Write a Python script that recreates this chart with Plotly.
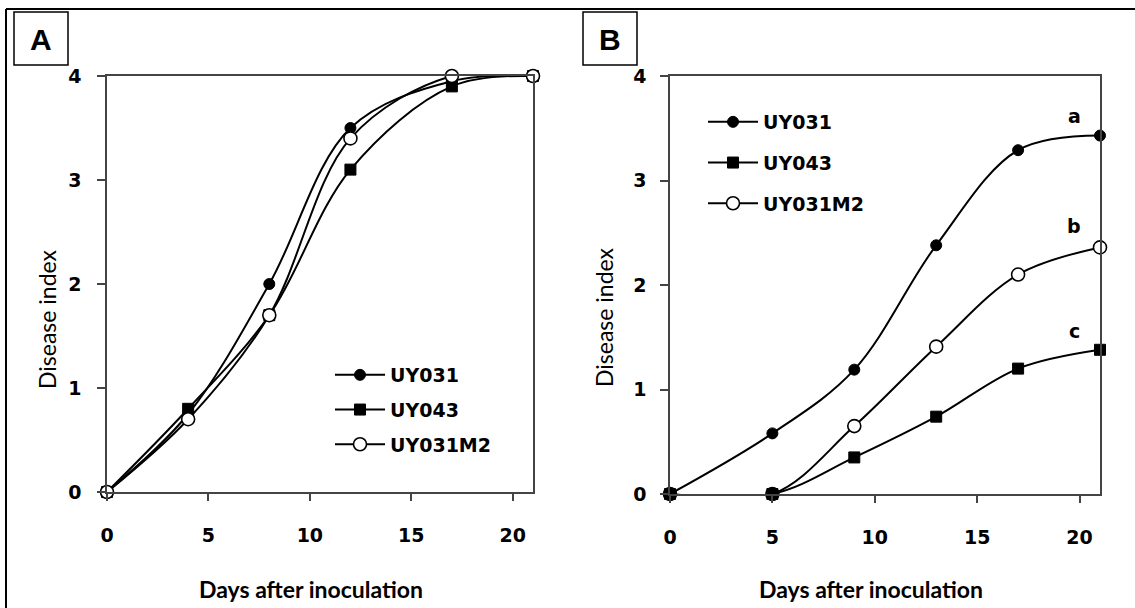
import plotly.graph_objects as go

W, H = 1135, 608

# ---- data ----
series_names = ["UY031", "UY043", "UY031M2"]

days_a = [0, 4, 8, 12, 17, 21]
a_uy031 = [0, 0.75, 2.0, 3.5, 3.95, 4.0]
a_uy043 = [0, 0.8, 1.7, 3.1, 3.9, 4.0]
a_uy031m2 = [0, 0.7, 1.7, 3.4, 4.0, 4.0]

days_b = [0, 5, 9, 13, 17, 21]
b_uy031 = [0, 0.58, 1.19, 2.38, 3.29, 3.43]
b_uy043 = [0, 0, 0.35, 0.74, 1.2, 1.38]
b_uy031m2 = [0, 0, 0.65, 1.41, 2.1, 2.36]

sig_letters = ["a", "b", "c"]
sig_y = [3.62, 2.56, 1.56]
sig_x = 19.75

x_ticks = [0, 5, 10, 15, 20]
y_ticks = [0, 1, 2, 3, 4]

# ---- helpers ----
def px_x(x):
    return x / W

def px_y(y):
    return 1 - y / H

TICK_FONT = dict(family="DejaVu Sans", size=19, color="black", weight="bold")
LEG_FONT = dict(family="DejaVu Sans", size=19, color="black", weight="bold")

styles = [
    dict(symbol="circle", size=11, color="black", line=dict(color="black", width=1)),
    dict(symbol="square", size=11, color="black", line=dict(color="black", width=1)),
    dict(symbol="circle", size=13, color="white", line=dict(color="black", width=1.6)),
]

fig = go.Figure()

panel_a = [a_uy031, a_uy043, a_uy031m2]
panel_b = [b_uy031, b_uy043, b_uy031m2]

for i, (name, ys) in enumerate(zip(series_names, panel_a)):
    fig.add_trace(go.Scatter(
        x=days_a, y=ys, name=name, mode="lines+markers",
        line=dict(color="black", width=2, shape="spline", smoothing=1.0),
        marker=styles[i], xaxis="x", yaxis="y", cliponaxis=False,
        legend="legend", legendgroup="a" + name, legendrank=i + 1,
    ))
# panel B: draw UY031M2 first so the filled markers sit on top at the origin
for i in [2, 1, 0]:
    fig.add_trace(go.Scatter(
        x=days_b, y=panel_b[i], name=series_names[i], mode="lines+markers",
        line=dict(color="black", width=2, shape="spline", smoothing=1.0),
        marker=styles[i], xaxis="x2", yaxis="y2", cliponaxis=False,
        legend="legend2", legendgroup="b" + series_names[i], legendrank=i + 1,
    ))

axis_common = dict(
    showgrid=False, zeroline=False, showline=True, mirror=True,
    linecolor="#444", linewidth=1.5, ticks="outside", tickcolor="#444",
    tickwidth=1.5, tickfont=TICK_FONT, automargin=False,
)

# panel positions (pixels)
A_L, A_R, A_T, A_B = 107, 533, 76, 492
B_L, B_R, B_T, B_B = 670, 1100, 76, 494

fig.update_layout(
    width=W, height=H, margin=dict(l=0, r=0, t=0, b=0, pad=0, autoexpand=False),
    paper_bgcolor="white", plot_bgcolor="white", showlegend=True,
    xaxis=dict(domain=[px_x(A_L), px_x(A_R)], range=[0, 21], tickvals=x_ticks,
               ticklen=7, ticklabelstandoff=18, anchor="y", **axis_common),
    yaxis=dict(domain=[px_y(A_B), px_y(A_T)], range=[0, 4], tickvals=y_ticks,
               ticklen=8, ticklabelstandoff=12, anchor="x", **axis_common),
    xaxis2=dict(domain=[px_x(B_L), px_x(B_R)], range=[0, 21], tickvals=x_ticks,
                ticklen=7, ticklabelstandoff=18, anchor="y2", **axis_common),
    yaxis2=dict(domain=[px_y(B_B), px_y(B_T)], range=[0, 4], tickvals=y_ticks,
                ticklen=8, ticklabelstandoff=10, anchor="x2", **axis_common),
    legend=dict(x=px_x(330), y=px_y(356), xanchor="left", yanchor="top",
                font=LEG_FONT, bgcolor="rgba(0,0,0,0)", itemwidth=50,
                tracegroupgap=7, traceorder="grouped"),
    legend2=dict(x=px_x(703), y=px_y(103), xanchor="left", yanchor="top",
                 font=LEG_FONT, bgcolor="rgba(0,0,0,0)", itemwidth=50,
                 tracegroupgap=13, traceorder="grouped"),
)

shapes = [
    # outer frame (top and left)
    dict(type="line", xref="paper", yref="paper", x0=px_x(6), x1=1, y0=px_y(9), y1=px_y(9),
         line=dict(color="black", width=2)),
    dict(type="line", xref="paper", yref="paper", x0=px_x(6), x1=px_x(6), y0=px_y(9), y1=0,
         line=dict(color="black", width=2)),
    # panel label boxes
    dict(type="rect", xref="paper", yref="paper", x0=px_x(14), x1=px_x(68), y0=px_y(65), y1=px_y(12),
         line=dict(color="black", width=1.5), fillcolor="rgba(0,0,0,0)"),
    dict(type="rect", xref="paper", yref="paper", x0=px_x(583), x1=px_x(637), y0=px_y(65), y1=px_y(12),
         line=dict(color="black", width=1.5), fillcolor="rgba(0,0,0,0)"),
]
fig.update_layout(shapes=shapes)

TITLE_X = dict(family="Lato", size=23, color="black", weight="bold")
TITLE_Y = dict(family="Lato", size=23, color="black")
C = dict(xref="paper", yref="paper", showarrow=False, xanchor="center", yanchor="middle")

annotations = [
    dict(text="A", x=px_x(41), y=px_y(39),
         font=dict(family="Liberation Sans", size=30, color="black", weight="bold"), **C),
    dict(text="B", x=px_x(610), y=px_y(39),
         font=dict(family="Liberation Sans", size=30, color="black", weight="bold"), **C),
    dict(text="Days after inoculation", x=px_x(311), y=px_y(589), font=TITLE_X, **C),
    dict(text="Days after inoculation", x=px_x(871), y=px_y(589), font=TITLE_X, **C),
    dict(text="Disease index", x=px_x(47), y=px_y(319), textangle=-90, font=TITLE_Y, **C),
    dict(text="Disease index", x=px_x(604), y=px_y(317), textangle=-90, font=TITLE_Y, **C),
]
for letter, yv in zip(sig_letters, sig_y):
    annotations.append(dict(text=letter, x=sig_x, y=yv, xref="x2", yref="y2", showarrow=False,
                            font=dict(family="DejaVu Sans", size=19, color="black", weight="bold")))
fig.update_layout(annotations=annotations)

fig.write_html("out.html")
